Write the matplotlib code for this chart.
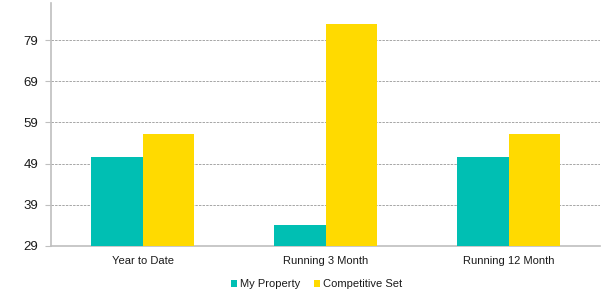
import matplotlib.pyplot as plt
import numpy as np

categories = ["Year to Date", "Running 3 Month", "Running 12 Month"]
my_property = [50.5, 34.1, 50.5]
competitive_set = [56.2, 83.0, 56.2]
y_ticks = [29, 39, 49, 59, 69, 79]

plt.rcParams['font.family'] = ['Liberation Sans', 'DejaVu Sans']

fig = plt.figure(figsize=(6.07, 2.93), dpi=100)
ax = fig.add_axes([51 / 607, 47 / 293, 549 / 607, 243 / 293])

x = np.arange(len(categories))
w = 0.284
ax.bar(x - w / 2, [v - 29 for v in my_property], w, bottom=29, color='#00BFB3',
       label='My Property', zorder=3)
ax.bar(x + w / 2, [v - 29 for v in competitive_set], w, bottom=29, color='#FFDA00',
       label='Competitive Set', zorder=3)

ax.set_xlim(-0.5, 2.5)
ax.set_ylim(29, 88)
ax.set_yticks(y_ticks)
ax.set_xticks(x)
ax.set_xticklabels(categories)
ax.tick_params(axis='y', length=4, color='#BFBFBF', labelsize=9.5, pad=5, labelcolor='#1a1a1a')
ax.tick_params(axis='x', length=0, labelsize=8, pad=7, labelcolor='#1a1a1a')
ax.yaxis.grid(True, linestyle=(0, (2.5, 1.2)), color='#A6A6A6', linewidth=0.7, zorder=0)

for s in ['top', 'right']:
    ax.spines[s].set_visible(False)
for s in ['left', 'bottom']:
    ax.spines[s].set_color('#BFBFBF')
    ax.spines[s].set_linewidth(1.2)

ax.legend(loc='lower center', bbox_to_anchor=(0.4836, -0.22), ncol=2, frameon=False,
          fontsize=8, handlelength=0.55, handleheight=0.55, handletextpad=0.25,
          columnspacing=1.3, labelcolor='#1a1a1a')

fig.savefig('out.png', dpi=100)
